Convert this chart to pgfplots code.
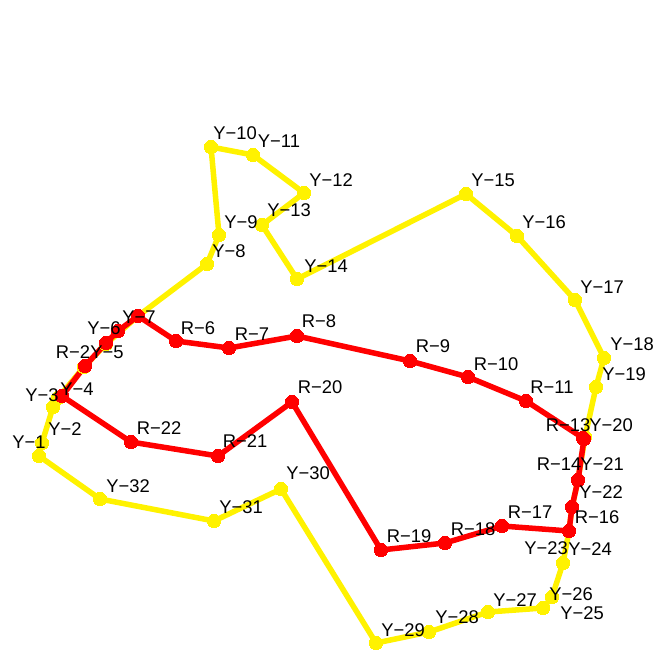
\documentclass[border=0pt]{standalone}
\usepackage{fontspec}
\setmainfont{Liberation Sans}
\usepackage{pgfplots}
\usepackage{pgfplotstable}
\pgfplotsset{compat=1.18}
\pgfplotstableread{
x y
39 456
42 443
53 407
58 398
84 367
106 344
138 316
207 264
219 235
211 147
253 155
304 193
262 225
297 279
466 194
517 236
575 300
604 358
596 387
585 437
578 480
572 507
569 531
563 563
552 597
543 608
488 612
429 632
376 643
281 489
214 521
100 499
39 456
}\yellowdata
\pgfplotstableread{
x y
62 396
85 366
106 343
118 331
138 316
176 341
229 348
297 336
410 361
468 377
526 401
583 438
584 439
578 480
572 507
569 531
502 526
445 543
381 550
292 402
218 456
131 442
62 396
}\reddata
\pgfplotstableread{
x y lab
29 442 Y−1
65 429 Y−2
42 395 Y−3
77 389 Y−4
107 352 Y−5
104 328 Y−6
139 317 Y−7
229 251 Y−8
241 222 Y−9
235 133 Y−10
279 141 Y−11
331 180 Y−12
289 210 Y−13
326 266 Y−14
493 180 Y−15
544 222 Y−16
602 287 Y−17
632 344 Y−18
624 374 Y−19
611 425 Y−20
602 464 Y−21
601 492 Y−22
546 548 Y−23
590 549 Y−24
582 613 Y−25
571 594 Y−26
515 600 Y−27
457 617 Y−28
403 630 Y−29
308 473 Y−30
241 507 Y−31
128 486 Y−32
73 352 R−2
198 328 R−6
252 334 R−7
319 321 R−8
433 346 R−9
496 364 R−10
552 387 R−11
568 425 R−13
559 464 R−14
597 517 R−16
530 512 R−17
473 529 R−18
409 536 R−19
320 387 R−20
245 441 R−21
159 428 R−22
}\labels
\begin{document}
\begin{tikzpicture}
\begin{axis}[
  scale only axis, width=10cm, height=10cm,
  xmin=0, xmax=654, ymin=0, ymax=654, y dir=reverse,
  hide axis, clip=false,
]
\addplot[yellow, line width=2.4pt, mark=*, mark size=2.9pt, mark options={fill=yellow, draw=yellow, line width=0pt}] table {\yellowdata};
\addplot[red, line width=2.4pt, mark=*, mark size=2.9pt, mark options={fill=red, draw=red, line width=0pt}] table {\reddata};
\addplot[draw=none, mark=none, nodes near coords, point meta=explicit symbolic,
  nodes near coords style={anchor=center, inner sep=0pt, text=black, font=\fontsize{8}{9.5}\selectfont}]
  table[meta=lab] {\labels};
\end{axis}
\pgfresetboundingbox
\path (0,0) rectangle (10cm,10cm);
\end{tikzpicture}
\end{document}
